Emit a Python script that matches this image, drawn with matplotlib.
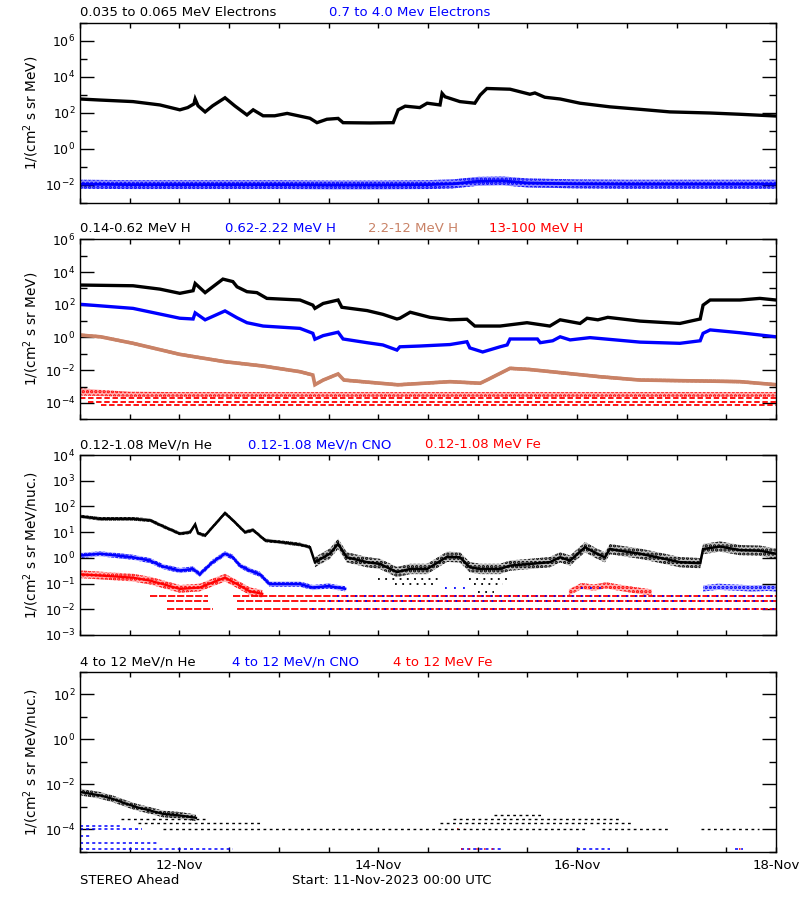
import matplotlib
matplotlib.use('Agg')
import matplotlib.pyplot as plt
import numpy as np
from matplotlib.ticker import FixedLocator, NullFormatter, LogFormatterSciNotation

plt.rcParams['font.family'] = 'DejaVu Sans'
plt.rcParams['font.size'] = 9
plt.rcParams['hatch.linewidth'] = 1.6

BLUE = '#0000ff'
RED = '#ff0000'
BROWN = '#c98266'

# ---- time axis (hours since 11-Nov-2023 00:00) ----
day_ticks = [24, 72, 120, 168]
day_labels = ['12-Nov', '14-Nov', '16-Nov', '18-Nov']

# ---- panel 1 : electrons ----
elec_lo_t = [0, 4.8, 12.8, 19.3, 24.1, 26, 27.5, 27.8, 28.5, 30.2, 32, 35, 37.4, 40.3, 41.8,
             44.2, 47, 50, 55.5, 57.2, 59.6, 62.3, 63.5, 70, 75.6, 76.8, 78.5, 82, 83.8,
             86.9, 87.4, 88.1, 91.7, 95.3, 96.6, 98.2, 103.8, 108.6, 109.8, 112.2, 115.9,
             120.7, 127.9, 135.2, 142.4, 152.1, 159.3, 168]
elec_lo = [600, 525, 430, 280, 150, 200, 320, 600, 250, 115, 250, 700, 245, 78, 150,
           70, 70, 95, 51, 29, 45, 50, 29, 28, 29, 150, 240, 200, 350,
           280, 1230, 800, 430, 350, 1000, 2300, 2100, 1100, 1300, 750, 600,
           350, 220, 160, 115, 100, 85, 68]

elec_hi_t = [0, 12, 24, 36, 48, 60, 72, 84, 90, 96, 102, 108, 120, 132, 144, 156, 168]
elec_hi = [1.1e-2, 1.05e-2, 1.05e-2, 1.05e-2, 1.05e-2, 1.0e-2, 1.0e-2, 1.05e-2, 1.15e-2,
           1.6e-2, 1.7e-2, 1.3e-2, 1.15e-2, 1.1e-2, 1.1e-2, 1.1e-2, 1.1e-2]
elec_hi_spread = 0.25   # dex, half width of the noisy band

# ---- panel 2 : protons ----
h1_t = [0, 12.8, 19.3, 24.1, 27.3, 27.8, 30.2, 34.5, 36.9, 37.9, 40.3, 42.7, 45.1, 53.1,
        56.2, 56.7, 58.7, 62.3, 63.2, 69.3, 73.1, 76.5, 77.2, 79.7, 84.5, 89.3, 93.4,
        95.3, 101.4, 107.9, 113.4, 115.9, 120.7, 122.4, 125, 127.4, 135.2, 144.8,
        149.7, 150.4, 152.1, 159.3, 164.1, 168]
h1 = [1600, 1450, 900, 500, 720, 2000, 550, 3700, 2600, 1250, 630, 550, 245, 195,
      95, 60, 120, 195, 70, 44, 26, 13.5, 15, 35, 17, 12, 13,
      5, 5, 8, 5, 12, 7.2, 15, 12, 17, 10, 7.2,
      13.5, 95, 195, 195, 245, 195]

h2_t = [0, 12.8, 24.1, 27.3, 27.8, 30.2, 35, 37.9, 40.3, 44.2, 53.1, 56.2, 56.7, 58.7,
        62.3, 63.5, 69.3, 73.1, 76.5, 77.2, 82, 89.3, 93.4, 94.1, 97.2, 101.4, 103.1,
        103.8, 110.4, 111.1, 114.1, 115.9, 118.3, 123.1, 135.2, 144.8, 149.7, 150.4,
        152.1, 159.3, 168]
h2 = [107, 60, 15, 13.5, 32, 12, 42, 16, 8, 5, 3.6, 1.8, 0.78, 1.3,
      2.1, 0.81, 0.48, 0.35, 0.17, 0.27, 0.3, 0.37, 0.55, 0.23, 0.13, 0.27, 0.35,
      0.81, 0.81, 0.48, 0.63, 1.1, 0.71, 0.98, 0.52, 0.44, 0.63, 1.8,
      2.9, 1.95, 1.1]

h3_t = [0, 5, 12.8, 24.1, 35, 44.2, 53.1, 56.2, 56.7, 58.7, 62.3, 63.7, 76.5, 77.2, 89.3,
        96.6, 98.2, 103.8, 108.6, 115.9, 125.5, 135.2, 149.7, 159.3, 168]
h3 = [1.4, 1.1, 0.44, 0.093, 0.033, 0.018, 8.1e-3, 5.1e-3, 1.3e-3, 2.5e-3, 5.9e-3, 2.5e-3,
      1.3e-3, 1.3e-3, 2.0e-3, 1.6e-3, 2.5e-3, 1.3e-2, 1.1e-2, 7.1e-3, 4.0e-3, 2.5e-3,
      2.2e-3, 2.0e-3, 1.3e-3]

h4_t = [0, 6, 12, 24, 48, 72, 96, 120, 144, 168]
h4_lo = [2.8e-4, 2.6e-4, 2.4e-4, 2.4e-4, 2.4e-4, 2.4e-4, 2.4e-4, 2.4e-4, 2.4e-4, 2.4e-4]
h4_hi = [8.0e-4, 6.0e-4, 4.8e-4, 4.6e-4, 4.6e-4, 4.6e-4, 4.6e-4, 4.6e-4, 4.6e-4, 4.6e-4]
h4_levels = [(1.9e-4, [(0, 168)]), (1.2e-4, [(2, 168)]), (7.4e-5, [(5, 168)])]

# ---- panel 3 : 0.12-1.08 MeV/n ions ----
he_t = [0, 4.8, 12.8, 16.9, 20, 24.1, 26.6, 27.8, 28.5, 30.2, 35, 36.9, 39.8, 41.8, 44.7,
        48.3, 53.1, 55.5, 56.7, 60.3, 62.3, 64.4, 69.3, 72.4, 76.5, 79.7, 83.8, 88.6,
        91.7, 94.1, 96.6, 101.4, 103.8, 108.6, 113.4, 115.9, 118.3, 121.9, 124.8,
        126.7, 127.9, 130.3, 135.2, 140, 144.8, 149.7, 150.4, 154.5, 159.3, 164.1, 168]
he = [41, 33, 33, 29, 17, 8.7, 10, 20, 9, 7.4, 55, 29, 10, 12, 4.8,
      4.1, 3.3, 2.6, 0.68, 1.45, 3.5, 1.05, 0.68, 0.58, 0.28, 0.37, 0.37, 1.1,
      1.05, 0.43, 0.37, 0.37, 0.5, 0.58, 0.68, 1.05, 0.78, 2.6, 1.45,
      1.05, 2.2, 1.9, 1.45, 1.0, 0.68, 0.62, 2.2, 2.75, 2.0, 1.9, 1.45]
he_levels = [(0.15, [(72, 87), (94, 104)]), (0.1, [(76, 86), (95, 102)]),
             (0.048, [(96, 100)])]

cno_t = [0, 4.8, 12.8, 16.9, 20, 24.1, 27.3, 28.9, 32, 35, 36.9, 38.6, 41, 43.4, 45.8,
         53.1, 56.2, 60, 64]
cno = [1.23, 1.45, 1.05, 0.78, 0.46, 0.32, 0.37, 0.23, 0.68, 1.45, 1.05, 0.5, 0.32,
       0.23, 0.095, 0.095, 0.07, 0.08, 0.063]
cno_late_t = [150.4, 154, 158, 162, 166, 168]
cno_late = [0.065, 0.075, 0.07, 0.065, 0.068, 0.065]
cno_levels = [(0.07, [(88, 93), (121, 127)]), (0.033, [(62, 168)]),
              (0.021, [(60, 168)]), (0.0107, [(56, 168)])]

fe_t = [0, 6, 12.8, 16.9, 20, 24.1, 28.9, 32, 35, 38.6, 41, 44]
fe = [0.23, 0.2, 0.17, 0.13, 0.095, 0.062, 0.07, 0.11, 0.17, 0.083, 0.05, 0.04]
fe_hump_t = [118, 121, 124, 127, 130, 134, 138]
fe_hump = [0.045, 0.08, 0.07, 0.085, 0.07, 0.055, 0.045]
fe_levels = [(0.033, [(17, 31), (37, 168)]), (0.021, [(21, 31), (38, 168)]),
             (0.0107, [(21, 32), (38, 168)])]

# ---- panel 4 : 4-12 MeV/n ions ----
he4_t = [0, 4.8, 8, 11.2, 13.7, 16.9, 20, 24.1, 28]
he4 = [4.5e-3, 3.2e-3, 2.2e-3, 1.35e-3, 9.5e-4, 6.8e-4, 4.8e-4, 4.1e-4, 3.2e-4]
he4_levels = [(1.0e-4, [(20, 122), (126, 142), (150, 164)]),
              (1.9e-4, [(14, 44), (87, 133)]),
              (2.9e-4, [(10, 31), (90, 130)]),
              (4.5e-4, [(100, 112)])]
cno4_levels = [(1.45e-4, [(0, 10)]), (1.0e-4, [(0, 15)]), (5e-5, [(0, 3)]),
               (2.5e-5, [(0, 19)]), (1.3e-5, [(0, 37), (92, 102), (120, 128), (158, 160)])]
fe4_levels = [(1.3e-5, [(92, 101), (159, 160)]), (1.0e-4, [(91, 93)])]


fig = plt.figure(figsize=(8, 9), dpi=100)


def make_axes(top_px, ylim, major, minor, ylabel):
    ax = fig.add_axes([80 / 800, 1 - (top_px + 180) / 900, 696 / 800, 180 / 900])
    ax.set_yscale('log')
    ax.set_ylim(*ylim)
    ax.set_xlim(0, 168)
    ax.yaxis.set_major_locator(FixedLocator(major))
    ax.yaxis.set_minor_locator(FixedLocator(minor))
    ax.yaxis.set_major_formatter(LogFormatterSciNotation())
    ax.yaxis.set_minor_formatter(NullFormatter())
    ax.xaxis.set_major_locator(FixedLocator(list(range(0, 169, 12))))
    ax.xaxis.set_minor_locator(FixedLocator([]))
    ax.set_xticklabels([])
    ax.tick_params(axis='y', which='major', direction='in', length=10, width=1,
                   left=True, right=True, labelsize=9)
    ax.tick_params(axis='y', which='minor', direction='in', length=5, width=1,
                   left=True, right=True)
    ax.tick_params(axis='x', which='major', direction='in', length=3.5, width=1,
                   top=True, bottom=True)
    ax.set_ylabel(ylabel, fontsize=9.8, labelpad=3)
    for s in ax.spines.values():
        s.set_linewidth(1)
    return ax


def titles(y_px, items):
    for x_px, txt, col in items:
        fig.text(x_px / 800, 1 - y_px / 900, txt, color=col, fontsize=9.5, va='center', ha='left')


def curve(ax, t, v, color, lw=2.0):
    ax.plot(t, v, color=color, lw=lw, solid_joinstyle='miter')


def band_lohi(ax, t, lo, hi, color, alpha=0.3):
    ax.fill_between(t, lo, hi, facecolor=color, alpha=alpha, linewidth=0)
    ax.fill_between(t, lo, hi, facecolor='none', edgecolor=color, hatch='....', linewidth=0)


def band(ax, t, v, spread, color, alpha=0.3):
    v = np.asarray(v, dtype=float)
    band_lohi(ax, t, v / 10 ** spread, v * 10 ** spread, color, alpha)


def levels(ax, lv, color, dash=(3, 1.5), lw=1.3):
    for val, segs in lv:
        for t0, t1 in segs:
            ax.plot([t0, t1], [val, val], color=color, lw=lw, linestyle=(0, dash))


lab1 = '1/(cm$^{2}$ s sr MeV)'
lab2 = '1/(cm$^{2}$ s sr MeV/nuc.)'

# panel 1
ax1 = make_axes(23, (1e-3, 1e7), [1e-2, 1, 1e2, 1e4, 1e6], [1e-3, 1e-1, 1e1, 1e3, 1e5, 1e7], lab1)
band(ax1, elec_hi_t, elec_hi, elec_hi_spread, BLUE, alpha=0.45)
curve(ax1, elec_hi_t, elec_hi, BLUE, lw=2.0)
curve(ax1, elec_lo_t, elec_lo, 'black', lw=2.4)
titles(13, [(80, '0.035 to 0.065 MeV Electrons', 'black'), (329, '0.7 to 4.0 Mev Electrons', BLUE)])

# panel 2
ax2 = make_axes(239.3, (1e-5, 1e6), [1e-4, 1e-2, 1, 1e2, 1e4, 1e6], [1e-5, 1e-3, 1e-1, 1e1, 1e3, 1e5], lab1)
band_lohi(ax2, h4_t, h4_lo, h4_hi, RED)
levels(ax2, h4_levels, RED)
band(ax2, h3_t, h3, 0.1, BROWN, alpha=0.6)
curve(ax2, h3_t, h3, BROWN, lw=2.6)
curve(ax2, h2_t, h2, BLUE, lw=2.4)
curve(ax2, h1_t, h1, 'black', lw=2.4)
titles(229, [(80, '0.14-0.62 MeV H', 'black'), (225, '0.62-2.22 MeV H', BLUE),
             (368, '2.2-12 MeV H', BROWN), (489, '13-100 MeV H', RED)])

# panel 3
ax3 = make_axes(455, (1e-3, 1e4), [1e-3, 1e-2, 1e-1, 1, 1e1, 1e2, 1e3, 1e4], [], lab2)
levels(ax3, fe_levels, RED, dash=(4, 1))
levels(ax3, cno_levels, BLUE, dash=(1, 4))
band(ax3, fe_t, fe, 0.15, RED)
curve(ax3, fe_t, fe, RED, lw=1.6)
band(ax3, fe_hump_t, fe_hump, 0.12, RED)
band(ax3, cno_t, cno, 0.1, BLUE)
curve(ax3, cno_t, cno, BLUE, lw=1.8)
band(ax3, cno_late_t, cno_late, 0.12, BLUE)
he_arr = np.asarray(he)
he_t_arr = np.asarray(he_t)
late = he_t_arr >= 56
band(ax3, he_t_arr[~late], he_arr[~late], 0.07, 'black')
band(ax3, he_t_arr[late], he_arr[late], 0.2, 'black', alpha=0.25)
curve(ax3, he_t, he, 'black', lw=1.8)
levels(ax3, he_levels, 'black', dash=(1, 3))
titles(445, [(80, '0.12-1.08 MeV/n He', 'black'), (248, '0.12-1.08 MeV/n CNO', BLUE),
             (425, '0.12-1.08 MeV Fe', RED)])

# panel 4
ax4 = make_axes(671.7, (1e-5, 1e3), [1e-4, 1e-2, 1, 1e2], [1e-5, 1e-3, 1e-1, 1e1, 1e3], lab2)
levels(ax4, cno4_levels, BLUE, dash=(2, 2), lw=1.1)
levels(ax4, fe4_levels, RED, dash=(1, 4), lw=1.1)
band(ax4, he4_t, he4, 0.15, 'black', alpha=0.25)
curve(ax4, he4_t, he4, 'black', lw=1.6)
levels(ax4, he4_levels, 'black', dash=(2, 2.5), lw=1.0)
titles(662, [(80, '4 to 12 MeV/n He', 'black'), (232, '4 to 12 MeV/n CNO', BLUE),
             (393, '4 to 12 MeV Fe', RED)])
ax4.set_xticks(list(range(0, 169, 12)))
ax4.set_xticklabels([day_labels[day_ticks.index(h)] if h in day_ticks else '' for h in range(0, 169, 12)],
                    fontsize=9.5)
ax4.tick_params(axis='x', pad=5)

fig.text(80 / 800, 1 - 881 / 900, 'STEREO Ahead', fontsize=9.5, va='center')
fig.text(292 / 800, 1 - 881 / 900, 'Start: 11-Nov-2023 00:00 UTC', fontsize=9.5, va='center')

fig.savefig('out.png', dpi=100)
